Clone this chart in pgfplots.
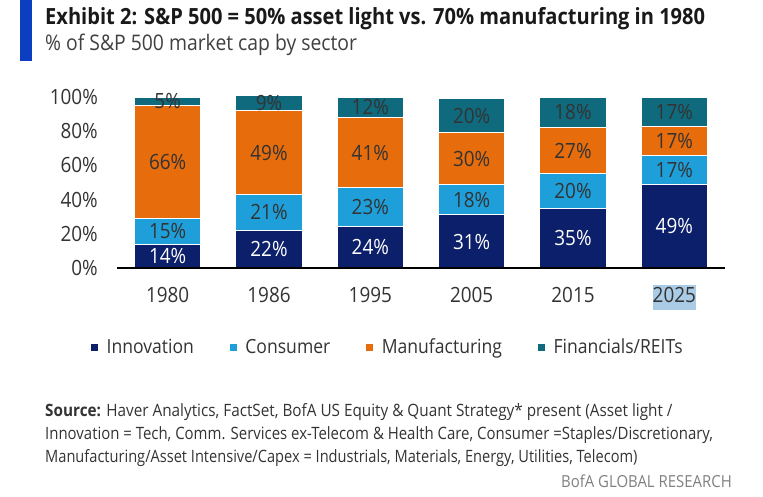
\documentclass[border=0pt]{standalone}
\usepackage{fontspec}
\setmainfont{Open Sans}[FakeStretch=0.9]
\usepackage{pgfplots}
\usepackage{pgfplotstable}
\pgfplotsset{compat=1.18}

\definecolor{innov}{HTML}{0B1F6B}
\definecolor{consum}{HTML}{1E9FD9}
\definecolor{manuf}{HTML}{E66C0C}
\definecolor{finan}{HTML}{0F6A7E}
\definecolor{hilite}{HTML}{A9CBE6}
\definecolor{txt}{HTML}{333333}
\definecolor{bofablue}{HTML}{0B3EC0}

% share of S&P 500 market cap, %
\pgfplotstableread{
x inn con man fin
0 14 15 66 5
1 22 21 49 9
2 24 23 41 12
3 31 18 30 20
4 35 20 27 18
5 49 17 17 17
}\sectors

\pgfplotsset{
  seglabel/.style={
    point meta=explicit symbolic,
    nodes near coords={\pgfplotspointmeta\%},
    every node near coord/.append style={anchor=center,
      font=\fontsize{21}{25}\selectfont, text=#1},
  },
}

\begin{document}
\begin{tikzpicture}[x=1pt,y=1pt]
\useasboundingbox (0,0) rectangle (763,-496);
\fill[bofablue] (20,0) rectangle (32,-61);
\node[anchor=base west, inner sep=0pt, font=\bfseries\fontsize{22.3}{26}\selectfont, text=black!90]
  at (45,-24) {Exhibit 2: S\&P 500 = 50\% asset light vs. 70\% manufacturing in 1980};
\node[anchor=base west, inner sep=0pt, font=\fontsize{21.5}{25}\selectfont, text=black!75]
  at (45,-50) {\% of S\&P 500 market cap by sector};

\begin{axis}[
  at={(117pt,-268pt)}, anchor=south west,
  scale only axis, width=608pt, height=171pt,
  xmin=-0.5, xmax=5.5, ymin=0, ymax=100,
  enlargelimits=false, clip=false,
  ybar stacked, bar width=66pt,
  axis on top,
  axis x line*=bottom, axis y line*=left,
  x axis line style={-, line width=1.5pt, black},
  y axis line style={draw=none},
  major tick length=0pt,
  xtick={0,...,5},
  xticklabels={1980,1986,1995,2005,2015,{\setlength{\fboxsep}{0pt}\colorbox{hilite}{\strut 2025}}},
  ytick={0,20,...,100},
  yticklabel={\pgfmathprintnumber{\tick}\%},
  /pgf/number format/assume math mode=true,
  tick label style={font=\fontsize{21}{25}\selectfont, text=txt},
  yticklabel style={anchor=east, inner sep=0pt, xshift=-19pt},
  xticklabel style={anchor=base, inner sep=0pt, yshift=-34pt},
  legend columns=4,
  legend style={at={(-0.0428,-0.462)}, anchor=west, draw=none, fill=none, inner sep=0pt,
    font=\fontsize{19.5}{23}\selectfont, text=txt,
    /tikz/every even column/.append style={column sep=34pt}},
  legend image code/.code={\fill[#1, draw=none] (0pt,-3.5pt) rectangle (7pt,3.5pt);
    \path (7pt,0pt) -- (13pt,0pt);},
]
\addplot[fill=innov, draw=white, line width=1pt, seglabel=white]
  table[x=x, y=inn, meta=inn] {\sectors};
\addlegendentry{Innovation}
\addplot[fill=consum, draw=white, line width=1pt, seglabel=txt]
  table[x=x, y=con, meta=con] {\sectors};
\addlegendentry{Consumer}
\addplot[fill=manuf, draw=white, line width=1pt, seglabel=txt]
  table[x=x, y=man, meta=man] {\sectors};
\addlegendentry{Manufacturing}
\addplot[fill=finan, draw=white, line width=1pt, seglabel=txt]
  table[x=x, y=fin, meta=fin] {\sectors};
\addlegendentry{Financials/REITs}
\end{axis}

\begin{scope}[every node/.style={anchor=base west, inner sep=0pt, font=\fontsize{17}{20}\selectfont, text=txt}]
\node at (45,-416) {\textbf{Source:} Haver Analytics, FactSet, BofA US Equity \& Quant Strategy* present (Asset light /};
\node[xscale=0.977] at (45,-439) {Innovation = Tech, Comm. Services ex-Telecom \& Health Care, Consumer =Staples/Discretionary,};
\node[xscale=0.955] at (45,-462) {Manufacturing/Asset Intensive/Capex = Industrials, Materials, Energy, Utilities, Telecom)};
\end{scope}
\node[anchor=base east, inner sep=0pt, font=\fontsize{16.6}{20}\selectfont, text=black!50]
  at (732,-487) {BofA GLOBAL RESEARCH};
\end{tikzpicture}
\end{document}
